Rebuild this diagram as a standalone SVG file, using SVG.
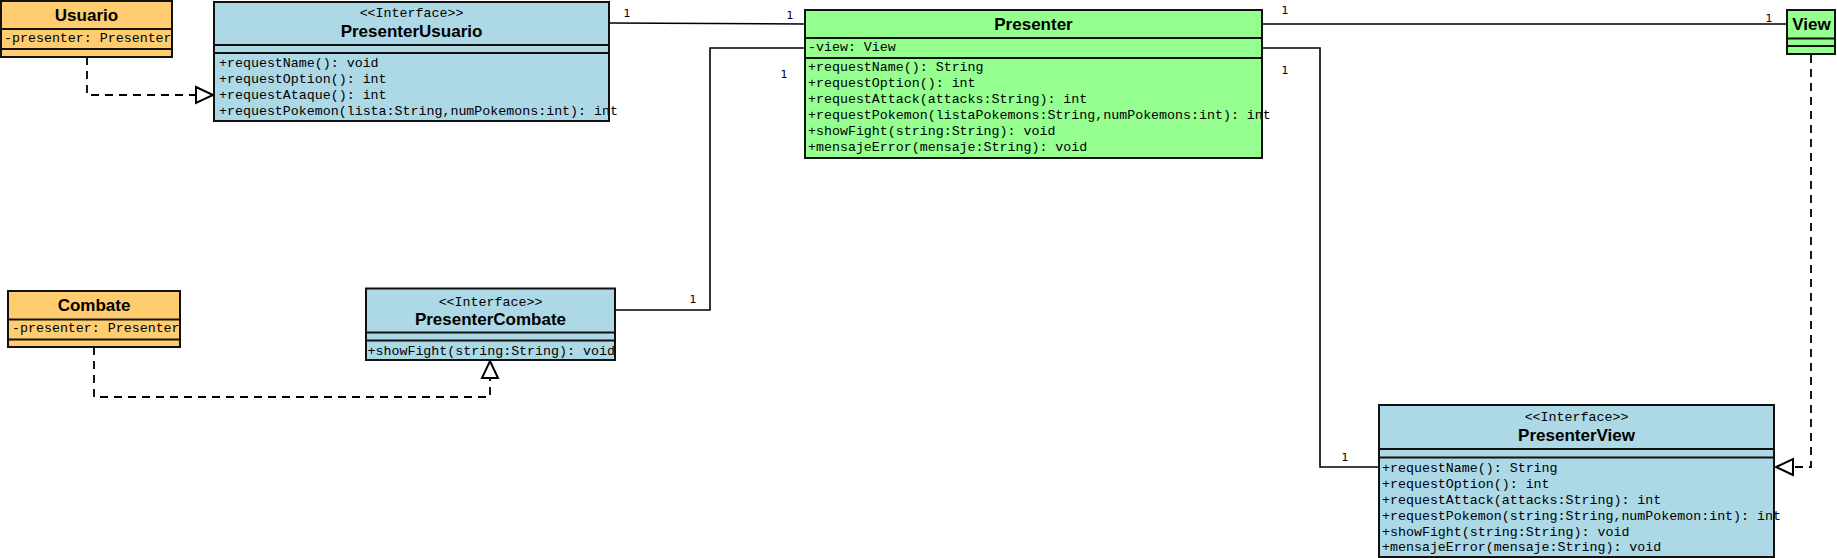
<svg xmlns="http://www.w3.org/2000/svg" width="1837" height="558" viewBox="0 0 1837 558">
<style>
.orange{fill:#FFCC6F}
.blue{fill:#ADD8E6}
.green{fill:#95FF90}
.outline{fill:none;stroke:#111;stroke-width:2}
.div{stroke:#111;stroke-width:2}
.name{font-family:"Liberation Sans",Arial,sans-serif;font-weight:bold;font-size:17px;text-anchor:middle;fill:#000}
.stereo{font-family:"Liberation Mono","Courier New",monospace;font-size:13.3px;text-anchor:middle;fill:#000}
.mono{font-family:"Liberation Mono","Courier New",monospace;font-size:13.3px;fill:#000}
.mult{font-family:"DejaVu Sans",sans-serif;font-size:11px;text-anchor:middle;fill:#000}
.assoc{fill:none;stroke:#000;stroke-width:1.6}
.real{fill:none;stroke:#000;stroke-width:1.8;stroke-dasharray:8 6}
</style>
<defs>
<marker id="tri" markerUnits="userSpaceOnUse" markerWidth="20" markerHeight="20" refX="18" refY="9" orient="auto" overflow="visible">
<path d="M1,1 L18,9 L1,17 Z" fill="#fff" stroke="#000" stroke-width="2"/>
</marker>
</defs>
<rect width="1837" height="558" fill="#fff"/>

<g id="connectors">
<path class="assoc" d="M609,23 L805,24"/>
<path class="assoc" d="M805,48 H710 V310 H615"/>
<path class="assoc" d="M1262,24 H1787"/>
<path class="assoc" d="M1262,48 H1320 V467 H1379"/>
<path class="real" d="M87,57 V95 H213" marker-end="url(#tri)"/>
<path class="real" d="M94,347 V397 H490 V361" marker-end="url(#tri)"/>
<path class="real" d="M1811,55 V467 H1776" marker-end="url(#tri)"/>
<text class="mult" x="627" y="17">1</text>
<text class="mult" x="790" y="19">1</text>
<text class="mult" x="784" y="78">1</text>
<text class="mult" x="693" y="303">1</text>
<text class="mult" x="1285" y="14">1</text>
<text class="mult" x="1285" y="74">1</text>
<text class="mult" x="1769" y="22">1</text>
<text class="mult" x="1345" y="461">1</text>
</g>

<g id="Usuario">
<rect class="orange" x="1" y="1" width="171" height="56"/>
<text class="name" x="86.5" y="21">Usuario</text>
<text class="mono" x="4" y="42">-presenter: Presenter</text>
<line class="div" x1="1" y1="29" x2="172" y2="29"/>
<line class="div" x1="1" y1="49" x2="172" y2="49"/>
<rect class="outline" x="1" y="1" width="171" height="56"/>
</g>

<g id="PresenterUsuario">
<rect class="blue" x="214" y="2" width="395" height="119"/>
<text class="stereo" x="411.5" y="17">&lt;&lt;Interface&gt;&gt;</text>
<text class="name" x="411.5" y="37">PresenterUsuario</text>
<text class="mono" x="219" y="67">+requestName(): void</text>
<text class="mono" x="219" y="83">+requestOption(): int</text>
<text class="mono" x="219" y="99">+requestAtaque(): int</text>
<text class="mono" x="219" y="115">+requestPokemon(lista:String,numPokemons:int): int</text>
<line class="div" x1="214" y1="45" x2="609" y2="45"/>
<line class="div" x1="214" y1="53" x2="609" y2="53"/>
<rect class="outline" x="214" y="2" width="395" height="119"/>
</g>

<g id="Presenter">
<rect class="green" x="805" y="10" width="457" height="148"/>
<text class="name" x="1033.5" y="30">Presenter</text>
<text class="mono" x="808" y="51">-view: View</text>
<text class="mono" x="808" y="71">+requestName(): String</text>
<text class="mono" x="808" y="87">+requestOption(): int</text>
<text class="mono" x="808" y="103">+requestAttack(attacks:String): int</text>
<text class="mono" x="808" y="119">+requestPokemon(listaPokemons:String,numPokemons:int): int</text>
<text class="mono" x="808" y="135">+showFight(string:String): void</text>
<text class="mono" x="808" y="151">+mensajeError(mensaje:String): void</text>
<line class="div" x1="805" y1="38" x2="1262" y2="38"/>
<line class="div" x1="805" y1="58" x2="1262" y2="58"/>
<rect class="outline" x="805" y="10" width="457" height="148"/>
</g>

<g id="View">
<rect class="green" x="1787" y="10" width="48" height="44"/>
<text class="name" x="1811.5" y="29.5">View</text>
<line class="div" x1="1787" y1="38.5" x2="1835" y2="38.5"/>
<line class="div" x1="1787" y1="46" x2="1835" y2="46"/>
<rect class="outline" x="1787" y="10" width="48" height="44"/>
</g>

<g id="Combate">
<rect class="orange" x="8" y="291" width="172" height="56"/>
<text class="name" x="94" y="311">Combate</text>
<text class="mono" x="12" y="332">-presenter: Presenter</text>
<line class="div" x1="8" y1="319.5" x2="180" y2="319.5"/>
<line class="div" x1="8" y1="339.5" x2="180" y2="339.5"/>
<rect class="outline" x="8" y="291" width="172" height="56"/>
</g>

<g id="PresenterCombate">
<rect class="blue" x="366" y="288.5" width="249" height="71.5"/>
<text class="stereo" x="490.5" y="305.5">&lt;&lt;Interface&gt;&gt;</text>
<text class="name" x="490.5" y="324.5">PresenterCombate</text>
<text class="mono" x="367.5" y="354.5">+showFight(string:String): void</text>
<line class="div" x1="366" y1="332.5" x2="615" y2="332.5"/>
<line class="div" x1="366" y1="340.5" x2="615" y2="340.5"/>
<rect class="outline" x="366" y="288.5" width="249" height="71.5"/>
</g>

<g id="PresenterView">
<rect class="blue" x="1379" y="405" width="395" height="152"/>
<text class="stereo" x="1576.5" y="421">&lt;&lt;Interface&gt;&gt;</text>
<text class="name" x="1576.5" y="440.5">PresenterView</text>
<text class="mono" x="1382" y="471.5">+requestName(): String</text>
<text class="mono" x="1382" y="487.5">+requestOption(): int</text>
<text class="mono" x="1382" y="503.5">+requestAttack(attacks:String): int</text>
<text class="mono" x="1382" y="519.5">+requestPokemon(string:String,numPokemon:int): int</text>
<text class="mono" x="1382" y="535.5">+showFight(string:String): void</text>
<text class="mono" x="1382" y="551">+mensajeError(mensaje:String): void</text>
<line class="div" x1="1379" y1="449" x2="1774" y2="449"/>
<line class="div" x1="1379" y1="457.5" x2="1774" y2="457.5"/>
<rect class="outline" x="1379" y="405" width="395" height="152"/>
</g>
</svg>
